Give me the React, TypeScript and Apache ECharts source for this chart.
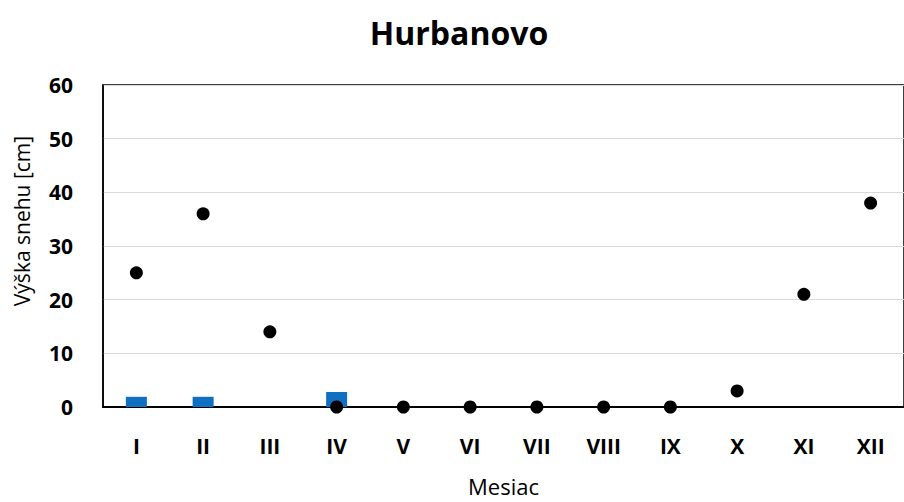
import React, { useEffect, useRef } from "react";
import * as echarts from "echarts";

const months = ["I", "II", "III", "IV", "V", "VI", "VII", "VIII", "IX", "X", "XI", "XII"];
const barValues = [1.9, 1.9, null, 2.8, null, null, null, null, null, null, null, null];
const dotValues = [25, 36, 14, 0, 0, 0, 0, 0, 0, 3, 21, 38];
const yTicks = { min: 0, max: 60, interval: 10 };

const FONT = "'Open Sans', sans-serif";

export default function App() {
  const ref = useRef<HTMLDivElement>(null);
  useEffect(() => {
    if (!ref.current) return;
    const chart = echarts.init(ref.current, null, { renderer: "svg" });
    chart.setOption({
      animation: false,
      backgroundColor: "#ffffff",
      title: {
        text: "Hurbanovo",
        left: 454,
        top: 11,
        textAlign: "center",
        textStyle: { fontFamily: FONT, fontWeight: "bold", fontSize: 32, color: "#000" },
      },
      graphic: [
        {
          type: "text",
          x: 22,
          y: 221,
          rotation: Math.PI / 2,
          style: {
            text: "Výška snehu [cm]",
            fontFamily: FONT,
            fontSize: 21,
            fill: "#000",
            align: "center",
            verticalAlign: "middle",
          },
        },
      ],
      grid: {
        left: 103,
        top: 85,
        width: 805,
        height: 323,
        show: true,
        borderColor: "#000",
        borderWidth: 1.5,
        backgroundColor: "transparent",
      },
      xAxis: {
        type: "category",
        data: months,
        name: "Mesiac",
        nameLocation: "middle",
        nameGap: 68,
        nameTextStyle: { fontFamily: FONT, fontSize: 22, color: "#000" },
        axisLine: { lineStyle: { color: "#000", width: 2 } },
        axisTick: { show: false },
        axisLabel: { fontFamily: FONT, fontWeight: "bold", fontSize: 21, color: "#000", margin: 28 },
        splitLine: { show: false },
      },
      yAxis: {
        type: "value",
        min: yTicks.min,
        max: yTicks.max,
        interval: yTicks.interval,
        axisLine: { show: true, lineStyle: { color: "#000", width: 1.5 } },
        axisTick: { show: false },
        axisLabel: { fontFamily: FONT, fontWeight: "bold", fontSize: 21, color: "#000", margin: 30 },
        splitLine: { show: true, lineStyle: { color: "#d9d9d9", width: 1 } },
      },
      series: [
        {
          type: "bar",
          data: barValues,
          barWidth: 21,
          itemStyle: { color: "#0f6fc0", opacity: 1 },
          z: 2,
        },
        {
          type: "scatter",
          data: dotValues,
          symbol: "circle",
          symbolSize: 13,
          itemStyle: { color: "#000", opacity: 1 },
          z: 3,
        },
      ],
    });
    return () => chart.dispose();
  }, []);
  return (
    <div
      ref={ref}
      style={{ position: "fixed", left: 0, top: 0, width: 904, height: 502, background: "#fff" }}
    />
  );
}
